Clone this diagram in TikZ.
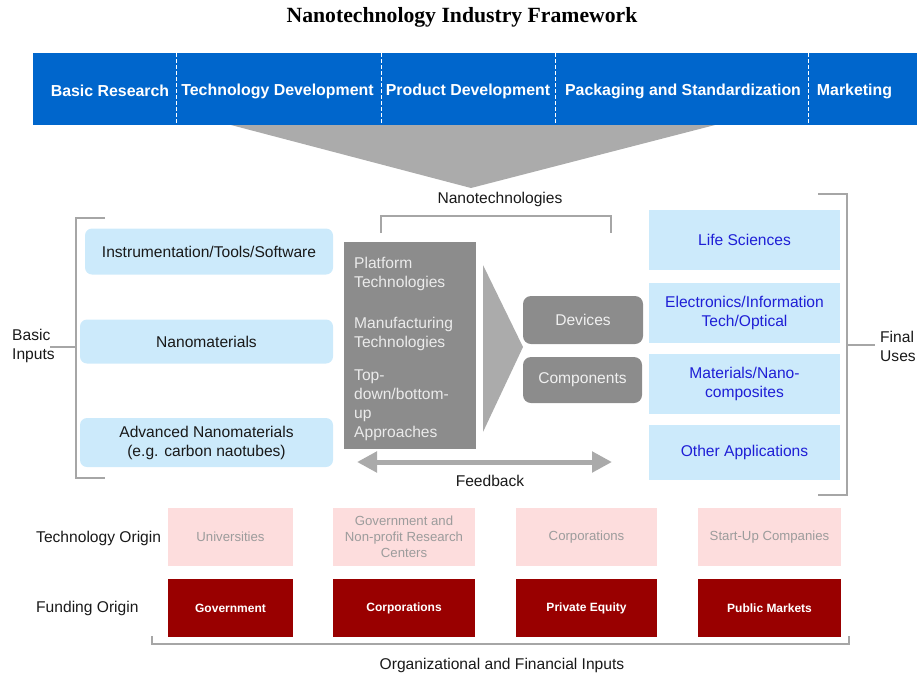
\documentclass[tikz,border=0pt]{standalone}
\usepackage{fontspec}
\setmainfont{Liberation Sans}
\newfontfamily\titlefont{Liberation Serif}
\usetikzlibrary{arrows.meta}

\definecolor{bandblue}{HTML}{0066CC}
\definecolor{lightblue}{HTML}{CCEAFB}
\definecolor{darkgrey}{HTML}{8C8C8C}
\definecolor{midgrey}{HTML}{ABABAB}
\definecolor{bracketgrey}{HTML}{A6A6A6}
\definecolor{usetext}{HTML}{1F1FD6}
\definecolor{pinkfill}{HTML}{FDDDDD}
\definecolor{origintext}{HTML}{9C9C9C}
\definecolor{fundred}{HTML}{990000}
\definecolor{feedgrey}{HTML}{AAAAAA}

\tikzset{
  bodytext/.style={font=\fontsize{15.6}{19}\selectfont, text=black!90},
  stage/.style={font=\fontsize{15.9}{18}\selectfont\bfseries, text=white, inner sep=0pt},
  inputbox/.style={fill=lightblue, rounded corners=7pt, inner sep=0pt, align=center,
    font=\fontsize{15.6}{19}\selectfont, text=black!90},
  techtext/.style={text=white!92!black, align=left, anchor=west, inner sep=0pt,
    font=\fontsize{15.6}{19}\selectfont},
  greybox/.style={fill=darkgrey, rounded corners=8pt, inner sep=0pt,
    text=white!94!black, font=\fontsize{15.6}{19}\selectfont},
  usebox/.style={fill=lightblue, inner sep=0pt, align=center, minimum width=191pt,
    text=usetext, font=\fontsize{15.6}{19}\selectfont},
  originbox/.style={fill=pinkfill, inner sep=0pt, align=center, minimum height=58pt,
    text=origintext, font=\fontsize{13.2}{16}\selectfont},
  fundbox/.style={fill=fundred, inner sep=0pt, align=center, minimum height=58pt,
    text=white, font=\fontsize{12}{15}\selectfont\bfseries},
  bracket/.style={draw=bracketgrey, line width=2pt},
  divider/.style={draw=white, dashed, line width=1pt, dash pattern=on 4pt off 2pt},
}

\begin{document}
\begin{tikzpicture}[x=1pt, y=-1pt]
  \useasboundingbox (0,0) rectangle (917,675);

  % title
  \node[font=\titlefont\fontsize{21.7}{25}\selectfont\bfseries] (title) at (462,17)
    {Nanotechnology Industry Framework};

  % value chain band
  \fill[bandblue] (33,53) rectangle (917,125);
  \foreach \x in {176,381,555,808} \draw[divider] (\x,53) -- (\x,125);
  \node[stage] (research) at (110,91) {Basic Research};
  \node[stage] (techdev)  at (277.5,91) {Technology Development};
  \node[stage] (proddev)  at (468,91) {Product Development};
  \node[stage] (packstd)  at (683,91) {Packaging and Standardization};
  \node[stage] (market)   at (854.5,91) {Marketing};

  % funnel into nanotechnologies
  \fill[midgrey] (231,125) -- (715,125) -- (471,188) -- cycle;

  \node[bodytext] (nanotech) at (500,199) {Nanotechnologies};
  \draw[bracket, line width=1.5pt] (381,233) -- (381,216) -- (611,216) -- (611,233);

  % basic inputs
  \node[inputbox, minimum width=248pt, minimum height=46pt] (instr) at (209,251.5)
    {Instrumentation/Tools/Software};
  \node[inputbox, minimum width=253pt, minimum height=44pt] (nanomat) at (206.5,341.5)
    {Nanomaterials};
  \node[inputbox, minimum width=253pt, minimum height=49pt] (advmat) at (206.5,442.5)
    {Advanced Nanomaterials\\(e.g. carbon naotubes)};

  \draw[bracket] (105,218) -- (76,218) -- (76,478) -- (105,478);
  \draw[bracket] (76,347) -- (50,347);
  \node[bodytext, align=left, anchor=west, inner sep=0pt] (basicin) at (12,346)
    {Basic\\Inputs};

  % platform technologies
  \node[fill=darkgrey, minimum width=132pt, minimum height=207pt, inner sep=0pt]
    (platform) at (410,345.5) {};
  \node[techtext] (plat1) at (354,274) {Platform\\Technologies};
  \node[techtext] (plat2) at (354,334) {Manufacturing\\Technologies};
  \node[techtext] (plat3) at (354,405) {Top-\\down/bottom-\\up\\Approaches};

  \fill[midgrey] (483,265) -- (523,347) -- (483,432) -- cycle;

  \node[greybox, minimum width=120pt, minimum height=48pt] (devices) at (583,320) {Devices};
  \node[greybox, minimum width=119pt, minimum height=46pt] (components) at (582.5,380) {Components};

  % feedback
  \coordinate (fbL) at (357,462);
  \coordinate (fbR) at (612,462);
  \draw[draw=feedgrey, line width=5pt,
        {Triangle[length=20pt,width=20pt]}-{Triangle[length=20pt,width=20pt]}] (fbL) -- (fbR);
  \node[bodytext] (feedback) at (490,481) {Feedback};

  % final uses
  \node[usebox, minimum height=60pt] (life)  at (744.5,240) {Life Sciences};
  \node[usebox, minimum height=60pt] (elec)  at (744.5,313) {Electronics/Information\\Tech/Optical};
  \node[usebox, minimum height=60pt] (mats)  at (744.5,384) {Materials/Nano-\\composites};
  \node[usebox, minimum height=55pt] (other) at (744.5,452.5) {Other Applications};

  \draw[bracket] (818,194) -- (847,194) -- (847,495) -- (818,495);
  \draw[bracket] (847,345) -- (875,345);
  \node[bodytext, align=left, anchor=west, inner sep=0pt] (finaluses) at (880,346)
    {Final\\Uses};

  % technology origin
  \node[bodytext, anchor=west, inner sep=0pt] (techorigin) at (36,538) {Technology Origin};
  \node[originbox, minimum width=125pt] (univ)  at (230.5,537) {Universities};
  \node[originbox, minimum width=142pt] (govres) at (404,537)
    {Government and\\Non-profit Research\\Centers};
  \node[originbox, minimum width=141pt] (corp)  at (586.5,537) {Corporations};
  \node[originbox, minimum width=143pt] (startup) at (769.5,537) {Start-Up Companies};

  % funding origin
  \node[bodytext, anchor=west, inner sep=0pt] (fundorigin) at (36,608) {Funding Origin};
  \node[fundbox, minimum width=125pt] (gov)    at (230.5,608) {Government};
  \node[fundbox, minimum width=142pt] (fcorp)  at (404,608) {Corporations};
  \node[fundbox, minimum width=141pt] (equity) at (586.5,608) {Private Equity};
  \node[fundbox, minimum width=143pt] (public) at (769.5,608) {Public Markets};

  \draw[bracket, line width=1.5pt] (152,636) -- (152,644) -- (849,644) -- (849,636);
  \node[bodytext] (orginputs) at (502,665) {Organizational and Financial Inputs};
\end{tikzpicture}
\end{document}
